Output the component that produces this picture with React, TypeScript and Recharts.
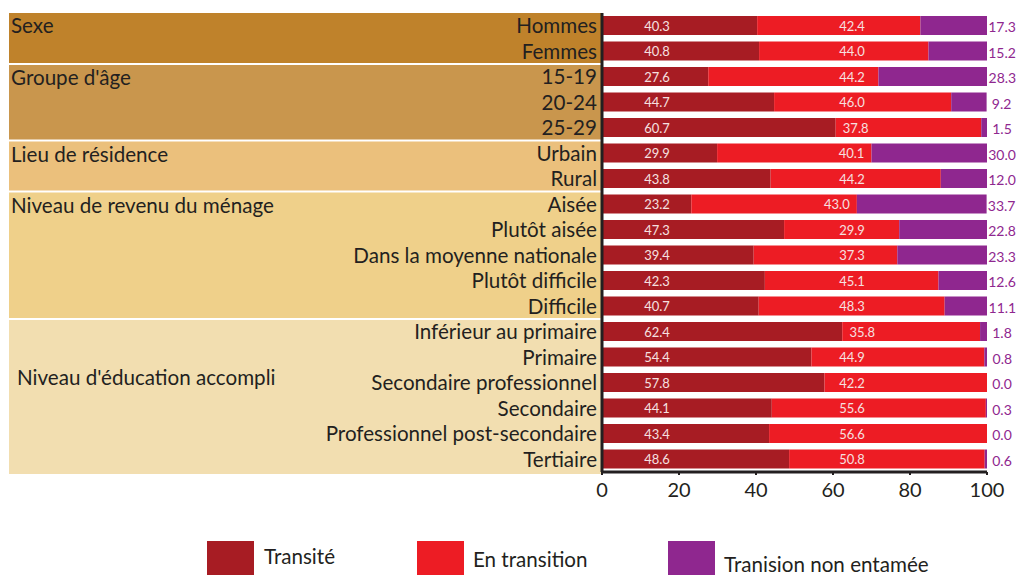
import React from "react";
import { BarChart, Bar, XAxis, YAxis, ReferenceArea, LabelList } from "recharts";

const categories = [
  "Hommes", "Femmes",
  "15-19", "20-24", "25-29",
  "Urbain", "Rural",
  "Aisée", "Plutôt aisée", "Dans la moyenne nationale", "Plutôt difficile", "Difficile",
  "Inférieur au primaire", "Primaire", "Secondaire professionnel", "Secondaire",
  "Professionnel post-secondaire", "Tertiaire",
];

const transite = [40.3, 40.8, 27.6, 44.7, 60.7, 29.9, 43.8, 23.2, 47.3, 39.4, 42.3, 40.7, 62.4, 54.4, 57.8, 44.1, 43.4, 48.6];
const enTransition = [42.4, 44.0, 44.2, 46.0, 37.8, 40.1, 44.2, 43.0, 29.9, 37.3, 45.1, 48.3, 35.8, 44.9, 42.2, 55.6, 56.6, 50.8];
const nonEntamee = [17.3, 15.2, 28.3, 9.2, 1.5, 30.0, 12.0, 33.7, 22.8, 23.3, 12.6, 11.1, 1.8, 0.8, 0.0, 0.3, 0.0, 0.6];

const seriesNames = ["Transité", "En transition", "Tranision non entamée"];
const seriesColors = ["#a71c23", "#ed1c24", "#8f278f"];

const groupNames = ["Sexe", "Groupe d'âge", "Lieu de résidence", "Niveau de revenu du ménage", "Niveau d'éducation accompli"];
const groupFirst = ["Hommes", "15-19", "Urbain", "Aisée", "Inférieur au primaire"];
const groupLast = ["Femmes", "25-29", "Rural", "Difficile", "Tertiaire"];
const groupColors = ["#bf822b", "#c9964d", "#ebc07c", "#efd08a", "#f2deb0"];
const groupLabelMiddle = [false, false, false, false, true];

const xTicks = [0, 20, 40, 60, 80, 100];

const data = categories.map((c, i) => ({
  cat: c,
  t1: transite[i],
  t2: enTransition[i],
  t3: nonEntamee[i],
}));

const FONT = "Lato, 'Noto Sans', sans-serif";
const TEXT = "#231f20";
const FS = 20.6;

const num = (v: any) => Number(v).toFixed(1);

const getBox = (p: any) => {
  const vb = p.viewBox || {};
  return {
    x: p.x ?? vb.x,
    y: p.y ?? vb.y,
    width: p.width ?? vb.width,
    height: p.height ?? vb.height,
  };
};

const Label1 = (p: any) => {
  const b = getBox(p);
  return (
    <text x={b.x + 55} y={b.y + b.height / 2} textAnchor="middle" dominantBaseline="central"
      fontFamily={FONT} fontSize={13} fill="#f6e0e0">{num(p.value)}</text>
  );
};

// Draws the "En transition" value inside its segment and the
// "Tranision non entamée" value to the right of the stacked row.
const Label2 = (p: any) => {
  const b = getBox(p);
  const cx = Math.min(Math.max(852, b.x + 20), b.x + b.width - 20);
  const idx = typeof p.index === "number" ? p.index : enTransition.indexOf(Number(p.value));
  const v3 = nonEntamee[idx];
  const pxPerUnit = b.width / Number(p.value);
  const end3 = b.x + b.width + v3 * pxPerUnit;
  return (
    <g>
      <text x={cx} y={b.y + b.height / 2} textAnchor="middle" dominantBaseline="central"
        fontFamily={FONT} fontSize={13} fill="#f6e0e0">{num(p.value)}</text>
      <text x={end3 + 15} y={b.y + b.height / 2 + 1} textAnchor="middle" dominantBaseline="central"
        fontFamily={FONT} fontSize={14} fill={seriesColors[2]}>{num(v3)}</text>
    </g>
  );
};

const makeBandShape = (gi: number) => (p: any) => {
  const isFirst = gi === 0;
  const isLast = gi === groupNames.length - 1;
  const top = p.y + (isFirst ? 0 : 1);
  const bottom = p.y + p.height + (isLast ? 2 : -1);
  const middle = groupLabelMiddle[gi];
  const ty = middle ? top + (bottom - top) / 2 - 12 : top + 20;
  return (
    <g>
      <rect x={9} y={top} width={p.x - 9} height={bottom - top} fill={groupColors[gi]} />
      <text x={middle ? 17 : 11} y={ty} fontFamily={FONT} fontSize={FS} fill={TEXT}>
        {groupNames[gi]}
      </text>
    </g>
  );
};

const legendSquareX = [207, 417, 668];
const legendTextX = [264, 473, 724];
const legendBaseline = [564, 567, 572];

export default function App() {
  return (
    <div style={{ position: "fixed", left: 0, top: 0, width: 1016, height: 575, overflow: "hidden", background: "#fff" }}>
      <BarChart
        width={1016}
        height={575}
        data={data}
        layout="vertical"
        margin={{ top: 13, right: 29, bottom: 73, left: 0 }}
        barSize={19}
      >
        {groupNames.map((g, gi) => (
          <ReferenceArea
            key={g}
            y1={groupFirst[gi]}
            y2={groupLast[gi]}
            ifOverflow="visible"
            shape={makeBandShape(gi)}
          />
        ))}
        <XAxis
          type="number"
          domain={[0, 100]}
          allowDataOverflow
          ticks={xTicks}
          axisLine={{ stroke: TEXT, strokeWidth: 3 }}
          tickLine={{ stroke: TEXT, strokeWidth: 2 }}
          tickSize={3}
          tickMargin={8}
          height={30}
          tick={{ fontFamily: FONT, fontSize: 20, fill: TEXT }}
        />
        <YAxis
          type="category"
          dataKey="cat"
          width={602}
          axisLine={{ stroke: TEXT, strokeWidth: 3 }}
          tickLine={false}
          tickSize={0}
          tickMargin={5}
          interval={0}
          tick={{ fontFamily: FONT, fontSize: FS, fill: TEXT }}
        />
        <Bar dataKey="t1" stackId="a" fill={seriesColors[0]} isAnimationActive={false} name={seriesNames[0]}>
          <LabelList dataKey="t1" content={Label1} />
        </Bar>
        <Bar dataKey="t2" stackId="a" fill={seriesColors[1]} isAnimationActive={false} name={seriesNames[1]}>
          <LabelList dataKey="t2" content={Label2} />
        </Bar>
        <Bar dataKey="t3" stackId="a" fill={seriesColors[2]} isAnimationActive={false} name={seriesNames[2]} />
      </BarChart>
      <svg width={1016} height={575} style={{ position: "absolute", left: 0, top: 0, pointerEvents: "none" }}>
        {seriesNames.map((n, i) => (
          <g key={n}>
            <rect x={legendSquareX[i]} y={541} width={47} height={40} fill={seriesColors[i]} />
            <text x={legendTextX[i]} y={legendBaseline[i]} fontFamily={FONT} fontSize={FS} fill={TEXT}>{n}</text>
          </g>
        ))}
      </svg>
    </div>
  );
}
